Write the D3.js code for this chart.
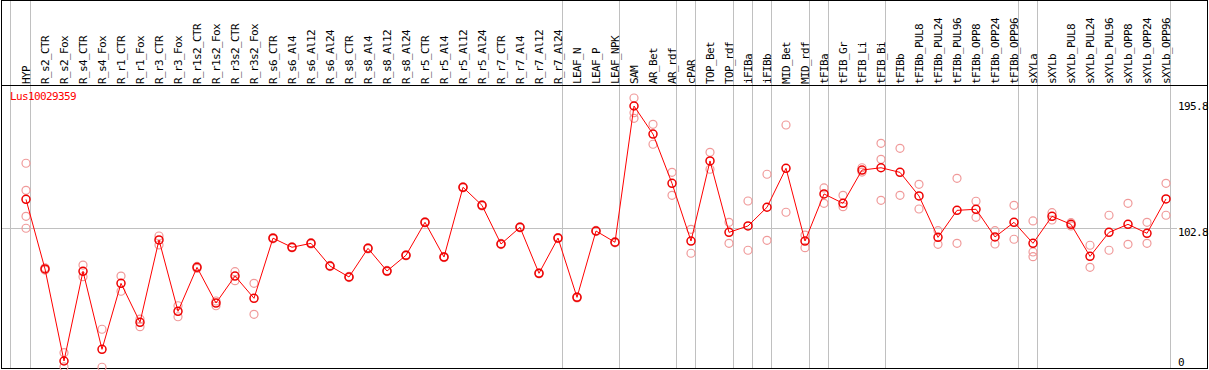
<!DOCTYPE html>
<html>
<head>
<meta charset="utf-8">
<script src="https://cdn.jsdelivr.net/npm/d3@7"></script>
<style>
  body { margin: 0; background: #fff; }
  text { font-family: "DejaVu Sans Mono", monospace; font-size: 11px; letter-spacing: -0.62px; }
</style>
</head>
<body>
<svg id="chart" width="1209" height="370"></svg>
<script>
// categories (x axis)
const categories = ["HYP","R_s2_CTR","R_s2_Fox","R_s4_CTR","R_s4_Fox","R_r1_CTR","R_r1_Fox","R_r3_CTR","R_r3_Fox",
  "R_r1s2_CTR","R_r1s2_Fox","R_r3s2_CTR","R_r3s2_Fox","R_s6_CTR","R_s6_Al4","R_s6_Al12","R_s6_Al24",
  "R_s8_CTR","R_s8_Al4","R_s8_Al12","R_s8_Al24","R_r5_CTR","R_r5_Al4","R_r5_Al12","R_r5_Al24",
  "R_r7_CTR","R_r7_Al4","R_r7_Al12","R_r7_Al24","LEAF_N","LEAF_P","LEAF_NPK","SAM","AR_Bet","AR_rdf",
  "cPAR","TOP_Bet","TOP_rdf","iFIBa","iFIBb","MID_Bet","MID_rdf","tFIBa","tFIB_Gr","tFIB_Li","tFIB_Bi",
  "tFIBb","tFIBb_PUL8","tFIBb_PUL24","tFIBb_PUL96","tFIBb_OPP8","tFIBb_OPP24","tFIBb_OPP96",
  "sXYLa","sXYLb","sXYLb_PUL8","sXYLb_PUL24","sXYLb_PUL96","sXYLb_OPP8","sXYLb_OPP24","sXYLb_OPP96"];

// mean expression per category
const meanValues = [123.9,72.6,4.8,70.9,13.4,62.0,33.3,94.0,41.4,
  73.8,47.5,67.4,51.0,95.3,88.6,91.5,74.8,
  66.7,87.8,71.1,82.7,107.0,81.4,132.8,119.5,
  91.0,103.3,69.4,95.4,51.7,100.6,92.3,192.7,172.0,135.7,
  93.2,152.2,99.6,104.3,118.1,146.8,93.2,127.9,121.0,145.5,147.2,
  143.8,126.4,95.9,115.8,116.6,96.2,107.0,
  91.5,111.4,105.5,81.9,99.6,105.5,98.9,124.2];

// replicate values per category
const repValues = [
  [150.5,130.6,111.4,102.6],[73.5,71.8],[10.9,0.5],[75.5,66.9],[28.2,0.2],[67.4,56.2],[35.7,30.1],[96.9,90.3],[45.5,37.4],
  [74.5,73.0],[45.5,49.0],[70.6,64.0],[62.0,39.2],[95.8,94.8],[89.0,88.2],[92.0,91.0],[75.2,74.4],
  [67.1,66.3],[88.2,87.4],[71.5,70.7],[83.1,82.3],[107.4,106.6],[81.8,81.0],[133.2,132.4],[119.9,119.1],
  [91.4,90.6],[103.7,102.9],[69.8,69.0],[95.8,95.0],[52.1,51.3],[101.0,100.2],[92.7,91.9],[198.6,187.8,183.6],[179.2,164.5],[143.8,126.9],
  [101.8,84.2],[158.6,146.1],[107.0,91.5],[122.7,86.4],[142.4,93.7],[178.7,114.4],[97.6,88.3],[132.3,121.0],[126.9,118.5],[147.2,144.0],[165.2,153.4,123.2],
  [161.5,126.9],[135.0,116.8],[100.8,90.8],[139.4,91.5],[122.5,110.7],[100.8,91.0],[119.5,94.5],
  [108.0,85.1,81.7],[114.1,108.7],[106.7,104.3],[90.1,73.8],[112.2,86.4],[121.0,90.8],[107.0,91.5],[135.7,112.2]];

// last category of each group (grey separators)
const groupEnds = ["HYP","R_r7_Al24","LEAF_NPK","AR_rdf","cPAR","TOP_rdf","iFIBa","iFIBb","MID_rdf",
  "tFIBa","tFIB_Bi","tFIBb_OPP96","sXYLa","sXYLb_OPP96"];

const yTicks = [0, 102.8, 195.8];
const geneName = "Lus10029359";

const W = 1209, H = 370;
const headerBottom = 85.5;
const svg = d3.select("#chart");

const x = d3.scalePoint().domain(categories).range([26, 1166]);
const y = d3.scaleLinear().domain([0, 195.8]).range([367.5, 101.8]);
const step = x.step();

// grey separators
const sepX = [x(categories[0]) - step * 0.8].concat(groupEnds.map(c => x(c) + 4.5));
svg.append("g").selectAll("line").data(sepX).join("line")
  .attr("x1", d => Math.floor(d) + 0.5).attr("x2", d => Math.floor(d) + 0.5)
  .attr("y1", 0).attr("y2", H - 1)
  .attr("stroke", "#c0c0c0").attr("stroke-width", 1);

// horizontal gridline at middle tick
svg.append("line")
  .attr("x1", 2).attr("x2", 1177)
  .attr("y1", Math.round(y(102.8)) + 0.5).attr("y2", Math.round(y(102.8)) + 0.5)
  .attr("stroke", "#c0c0c0");

// frame
svg.append("rect").attr("x", 1.5).attr("y", 0.5).attr("width", 1206).attr("height", 368)
  .attr("fill", "none").attr("stroke", "#000").attr("stroke-width", 1);
svg.append("line").attr("x1", 1).attr("x2", 1208).attr("y1", headerBottom).attr("y2", headerBottom)
  .attr("stroke", "#000");

// category labels
svg.append("g").selectAll("text").data(categories).join("text")
  .attr("transform", d => `translate(${x(d) + 3.5},84) rotate(-90)`)
  .attr("fill", "#000")
  .text(d => d);

// right axis labels
svg.append("g").selectAll("text").data(yTicks).join("text")
  .attr("x", 1178)
  .attr("y", d => Math.min(y(d) + 8, 366))
  .attr("fill", "#000")
  .text(d => d);

// gene name
svg.append("text").attr("x", 10).attr("y", 100).attr("fill", "#ff0000").text(geneName);

// replicates
const reps = [];
repValues.forEach((arr, i) => arr.forEach(v => reps.push({ c: categories[i], v })));
svg.append("g").selectAll("circle").data(reps).join("circle")
  .attr("cx", d => x(d.c)).attr("cy", d => y(d.v)).attr("r", 4)
  .attr("fill", "none").attr("stroke", "#f09a9a").attr("stroke-width", 1.2);

// mean line
const line = d3.line().x((d, i) => x(categories[i])).y(d => y(d));
svg.append("path").datum(meanValues).attr("d", line)
  .attr("fill", "none").attr("stroke", "#ff0000").attr("stroke-width", 1);

svg.append("g").selectAll("circle").data(meanValues).join("circle")
  .attr("cx", (d, i) => x(categories[i])).attr("cy", d => y(d)).attr("r", 4)
  .attr("fill", "none").attr("stroke", "#ee0000").attr("stroke-width", 1.5);
</script>
</body>
</html>
